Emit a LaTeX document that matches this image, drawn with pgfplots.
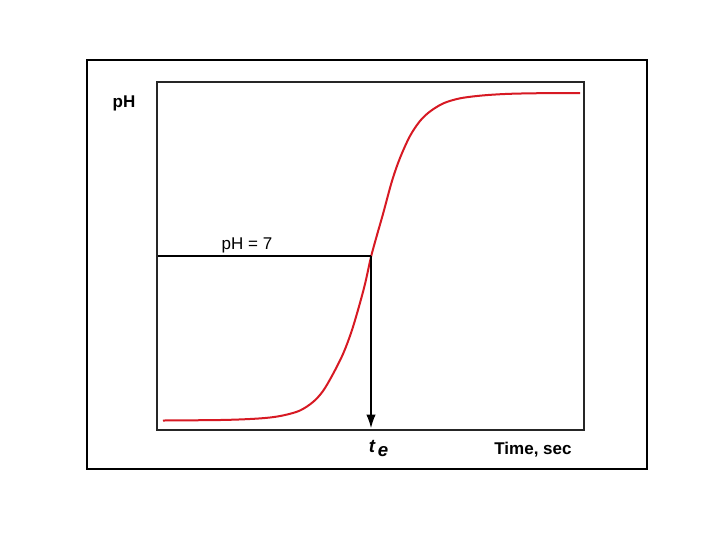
\documentclass[border=0pt]{standalone}
\usepackage{pgfplots}
\pgfplotsset{compat=1.18}
\usepackage{fontspec}
\setmainfont{Liberation Sans}
\usetikzlibrary{arrows.meta}
\definecolor{curvered}{RGB}{215,25,35}
\begin{document}
\begin{tikzpicture}
\begin{axis}[
  scale only axis,
  width=320.25pt, height=261pt,
  xmin=157, xmax=584,
  ymin=82, ymax=430,
  y dir=reverse,
  xtick=\empty, ytick=\empty,
  axis on top,
  axis line style={line width=1.1pt, draw=black!85},
  clip=false,
]
% page extent and outer frame
\path[fill=white] (axis cs:0,0) rectangle (axis cs:720,540);
\draw[line width=1.4pt] (axis cs:87,60) rectangle (axis cs:647,469);
\addplot[curvered, line width=1.5pt, smooth, tension=0.55] coordinates {
(163,420.5) (220,420) (250,419) (270,417.5) (285,415) (300,410.5)
(313,402) (323,391) (333,374) (343,354) (351,333) (358,310)
(365,284) (371,257) (377,235) (383,214) (392,181) (400,158)
(410,136) (420,121) (430,111.5) (443,103.5) (457,99) (470,96.8)
(488,95) (510,93.8) (540,93.2) (580,93)
};
\draw[line width=0.8pt] (axis cs:157,256) -- (axis cs:371,256);
\draw[line width=0.8pt, -{Latex[length=10pt,width=7pt]}] (axis cs:371,256) -- (axis cs:371,428);
\node[font=\fontsize{12.75}{15}\selectfont\bfseries] at (axis cs:124,103) {pH};
\node[font=\fontsize{12.75}{15}\selectfont] at (axis cs:247,245) {pH = 7};
\node[font=\fontsize{12.75}{15}\selectfont\bfseries] at (axis cs:533,450) {Time, sec};
\node[font=\fontsize{14}{16}\selectfont\bfseries\itshape] at (axis cs:372,446) {t};
\node[font=\fontsize{14}{16}\selectfont\bfseries\itshape] at (axis cs:383,452) {e};
\end{axis}
\end{tikzpicture}
\end{document}
